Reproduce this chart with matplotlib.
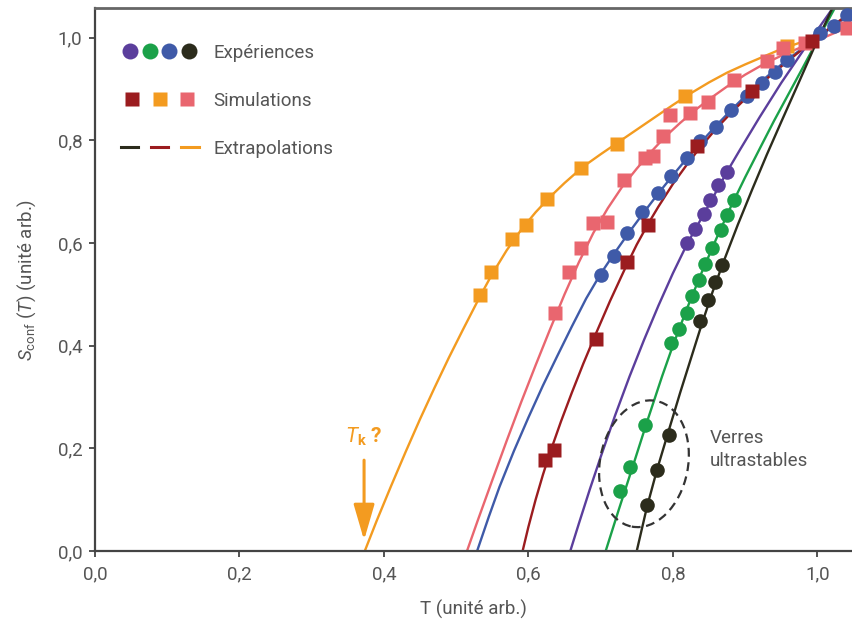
import numpy as np
import matplotlib
matplotlib.use("Agg")
import matplotlib.pyplot as plt
from matplotlib.lines import Line2D
from matplotlib.patches import Ellipse
from matplotlib.legend_handler import HandlerTuple
from matplotlib import transforms

plt.rcParams['font.family'] = ['Roboto', 'DejaVu Sans']
plt.rcParams['mathtext.fontset'] = 'custom'
plt.rcParams['mathtext.rm'] = 'Roboto'
plt.rcParams['mathtext.it'] = 'Roboto:italic'
plt.rcParams['mathtext.bf'] = 'Roboto:bold'

# couleurs
c_purple = '#5B3E9C'
c_green = '#1BA149'
c_blue = '#3F5AA8'
c_black = '#2C2C1C'
c_red = '#9B1C1F'
c_orange = '#F39B20'
c_pink = '#E9666F'
c_text = '#555555'

# courbes (ajustements + extrapolations)
orange_cx = [0.3735, 0.39, 0.41, 0.43, 0.45, 0.47, 0.49, 0.51, 0.533, 0.55, 0.57, 0.59, 0.61, 0.63,
             0.65, 0.675, 0.70, 0.725, 0.75, 0.775, 0.80, 0.825, 0.85, 0.875, 0.90, 0.925, 0.95,
             0.975, 1.0]
orange_cy = [0.0, 0.059, 0.127, 0.193, 0.257, 0.318, 0.377, 0.433, 0.496, 0.540, 0.586, 0.626, 0.660,
             0.690, 0.717, 0.748, 0.773, 0.797, 0.821, 0.845, 0.869, 0.892, 0.913, 0.932, 0.948,
             0.963, 0.978, 0.990, 1.002]

pink_cx = [0.515, 0.53, 0.55, 0.57, 0.59, 0.61, 0.63, 0.65, 0.67, 0.69, 0.71, 0.73, 0.75, 0.77, 0.79,
           0.81, 0.83, 0.85, 0.875, 0.90, 0.925, 0.95, 0.975, 1.0, 1.025, 1.048]
pink_cy = [0.0, 0.060, 0.138, 0.215, 0.290, 0.362, 0.432, 0.500, 0.563, 0.620, 0.668, 0.710, 0.745,
           0.778, 0.808, 0.834, 0.858, 0.880, 0.905, 0.928, 0.948, 0.965, 0.980, 0.995, 1.010, 1.023]

blue_cx = [0.529, 0.545, 0.56, 0.58, 0.60, 0.62, 0.64, 0.66, 0.68, 0.70, 0.72, 0.74, 0.76, 0.78, 0.80,
           0.82, 0.84, 0.86, 0.88, 0.90, 0.92, 0.94, 0.96, 0.98, 1.0, 1.02, 1.048]
blue_cy = [0.0, 0.066, 0.125, 0.195, 0.260, 0.322, 0.380, 0.437, 0.492, 0.540, 0.582, 0.622, 0.660,
           0.697, 0.732, 0.766, 0.798, 0.829, 0.858, 0.886, 0.912, 0.936, 0.959, 0.980, 1.0, 1.020, 1.048]

red_cx = [0.592, 0.60, 0.61, 0.62, 0.63, 0.645, 0.66, 0.676, 0.693, 0.713, 0.734, 0.75, 0.766, 0.78,
          0.80, 0.82, 0.836, 0.86, 0.885, 0.909, 0.93, 0.95, 0.97, 0.993, 1.02, 1.04]
red_cy = [0.0, 0.047, 0.100, 0.148, 0.192, 0.252, 0.308, 0.365, 0.422, 0.487, 0.551, 0.597, 0.638,
          0.671, 0.715, 0.754, 0.783, 0.823, 0.860, 0.893, 0.920, 0.944, 0.967, 0.993, 1.022, 1.043]

purple_cx = [0.658, 0.67, 0.685, 0.70, 0.72, 0.74, 0.76, 0.78, 0.80, 0.82, 0.843, 0.863, 0.875, 0.893,
             0.92, 0.95, 0.99, 1.03]
purple_cy = [0.0, 0.054, 0.120, 0.183, 0.264, 0.340, 0.411, 0.478, 0.541, 0.599, 0.657, 0.708, 0.739,
             0.782, 0.845, 0.912, 0.995, 1.075]

green_cx = [0.707, 0.725, 0.745, 0.765, 0.785, 0.80, 0.82, 0.84, 0.86, 0.88, 0.90, 0.921, 0.94, 0.96,
            0.98, 1.0, 1.025]
green_cy = [0.0, 0.080, 0.167, 0.255, 0.340, 0.400, 0.474, 0.543, 0.608, 0.670, 0.728, 0.786, 0.838,
            0.890, 0.942, 0.995, 1.060]

black_cx = [0.750, 0.764, 0.778, 0.795, 0.81, 0.825, 0.84, 0.855, 0.87, 0.89, 0.91, 0.93, 0.95, 0.975,
            1.0, 1.025]
black_cy = [0.0, 0.085, 0.158, 0.238, 0.308, 0.375, 0.442, 0.505, 0.563, 0.636, 0.705, 0.772, 0.836,
            0.915, 0.995, 1.070]

# points (expériences / simulations)
orange_x = [0.533, 0.548, 0.577, 0.597, 0.626, 0.673, 0.722, 0.817, 0.958]
orange_y = [0.499, 0.544, 0.608, 0.636, 0.686, 0.746, 0.793, 0.887, 0.983]

pink_x = [0.637, 0.656, 0.673, 0.690, 0.709, 0.732, 0.762, 0.773, 0.787, 0.796, 0.824, 0.849, 0.884,
          0.930, 0.953, 0.983, 1.041]
pink_y = [0.463, 0.543, 0.590, 0.640, 0.642, 0.723, 0.765, 0.769, 0.808, 0.850, 0.853, 0.874, 0.918,
          0.954, 0.980, 0.990, 1.019]

red_x = [0.623, 0.635, 0.693, 0.736, 0.766, 0.833, 0.909, 0.993]
red_y = [0.177, 0.197, 0.413, 0.564, 0.636, 0.789, 0.897, 0.993]

blue_x = [0.700, 0.718, 0.736, 0.757, 0.779, 0.797, 0.820, 0.838, 0.860, 0.880, 0.903, 0.923, 0.942,
          0.958, 1.004, 1.023, 1.041]
blue_y = [0.538, 0.575, 0.619, 0.660, 0.697, 0.731, 0.765, 0.798, 0.827, 0.860, 0.886, 0.912, 0.934,
          0.957, 1.009, 1.022, 1.045]

purple_x = [0.820, 0.831, 0.843, 0.852, 0.863, 0.875]
purple_y = [0.601, 0.627, 0.657, 0.684, 0.713, 0.739]

green_x = [0.727, 0.741, 0.762, 0.797, 0.808, 0.819, 0.827, 0.836, 0.845, 0.854, 0.866, 0.875, 0.885]
green_y = [0.116, 0.163, 0.246, 0.406, 0.433, 0.463, 0.496, 0.528, 0.560, 0.590, 0.626, 0.655, 0.684]

black_x = [0.764, 0.778, 0.795, 0.838, 0.848, 0.859, 0.868]
black_y = [0.090, 0.158, 0.226, 0.449, 0.490, 0.525, 0.558]

xticks = [0.0, 0.2, 0.4, 0.6, 0.8, 1.0]
yticks = [0.0, 0.2, 0.4, 0.6, 0.8, 1.0]
tick_labels = ['0,0', '0,2', '0,4', '0,6', '0,8', '1,0']

tk_x = 0.3725
fs = 13.5

fig = plt.figure(figsize=(8.52, 6.21), dpi=100)
ax = fig.add_axes([95 / 852, 70 / 621, 1 - 95 / 852, 543 / 621])

lw = 1.7
for cx, cy, col in [(orange_cx, orange_cy, c_orange), (pink_cx, pink_cy, c_pink),
                    (blue_cx, blue_cy, c_blue), (red_cx, red_cy, c_red),
                    (purple_cx, purple_cy, c_purple), (green_cx, green_cy, c_green),
                    (black_cx, black_cy, c_black)]:
    ax.plot(cx, cy, color=col, lw=lw, zorder=2, solid_joinstyle='round')

ms = 10.5
ax.plot(blue_x, blue_y, 'o', color=c_blue, ms=ms, mec='none', zorder=3)
ax.plot(purple_x, purple_y, 'o', color=c_purple, ms=ms, mec='none', zorder=3)
ax.plot(green_x, green_y, 'o', color=c_green, ms=ms, mec='none', zorder=3)
ax.plot(black_x, black_y, 'o', color=c_black, ms=ms, mec='none', zorder=3)
ax.plot(orange_x, orange_y, 's', color=c_orange, ms=ms, mec='none', zorder=4)
ax.plot(pink_x, pink_y, 's', color=c_pink, ms=ms, mec='none', zorder=4)
ax.plot(red_x, red_y, 's', color=c_red, ms=ms, mec='none', zorder=4)

# ellipse "verres ultrastables" (taille en pixels)
ell_tr = transforms.Affine2D() + transforms.ScaledTranslation(0.760, 0.170, ax.transData)
ax.add_patch(Ellipse((0, 0), 88, 128, angle=-11, fill=False, ls=(0, (4, 2.5)),
                     lw=1.6, color='#333333', transform=ell_tr, zorder=5))
ax.text(0.851, 0.198, 'Verres\nultrastables', fontsize=fs, color=c_text,
        va='center', ha='left', linespacing=1.35)

# T_k ?
ax.annotate('', xy=(tk_x, 0.021), xytext=(tk_x, 0.177),
            arrowprops=dict(arrowstyle='-|>,head_length=1.1,head_width=0.32',
                            color=c_orange, lw=2.2, mutation_scale=20, shrinkA=0, shrinkB=0))
ax.text(tk_x - 0.001, 0.200, r'$T_{\mathbf{k}}$ ?', color=c_orange, fontsize=15, fontweight='bold',
        ha='center', va='bottom')

# légende
h_exp = tuple(Line2D([], [], ls='none', marker='o', ms=11.5, mec='none', color=c)
              for c in [c_purple, c_green, c_blue, c_black])
h_sim = tuple(Line2D([], [], ls='none', marker='s', ms=10.5, mec='none', color=c)
              for c in [c_red, c_orange, c_pink])
h_ext = tuple(Line2D([], [], lw=2.2, color=c) for c in [c_black, c_red, c_orange])
leg = ax.legend([h_exp, h_sim, h_ext], ['Expériences', 'Simulations', 'Extrapolations'],
                handler_map={h_exp: HandlerTuple(ndivide=None, pad=0.0),
                             h_sim: HandlerTuple(ndivide=None, pad=0.3),
                             h_ext: HandlerTuple(ndivide=None, pad=0.67)},
                loc='upper left', bbox_to_anchor=(0.034, 0.934), frameon=False,
                borderpad=0, borderaxespad=0,
                fontsize=fs, labelspacing=1.6, handlelength=4.15, handletextpad=0.8)
for t in leg.get_texts():
    t.set_color(c_text)

ax.set_xlim(0, 1.048)
ax.set_ylim(0, 1.058)
ax.set_xticks(xticks)
ax.set_xticklabels(tick_labels)
ax.set_yticks(yticks)
ax.set_yticklabels(tick_labels)
ax.tick_params(direction='out', length=4, width=1.3, colors='#444444',
               labelsize=fs, labelcolor=c_text)
ax.tick_params(axis='x', pad=6)
ax.tick_params(axis='y', pad=5)
for s in ['left', 'bottom']:
    ax.spines[s].set_color('#444444')
    ax.spines[s].set_linewidth(1.6)
ax.spines['top'].set_color('#666666')
ax.spines['top'].set_linewidth(2)
ax.spines['right'].set_visible(False)

ax.set_xlabel('T (unité arb.)', fontsize=fs, color=c_text, labelpad=12)
ax.set_ylabel(r'$S_{\rm conf}$ ($T$) (unité arb.)', fontsize=fs, color=c_text, labelpad=14)

fig.savefig('out.png', dpi=100)
